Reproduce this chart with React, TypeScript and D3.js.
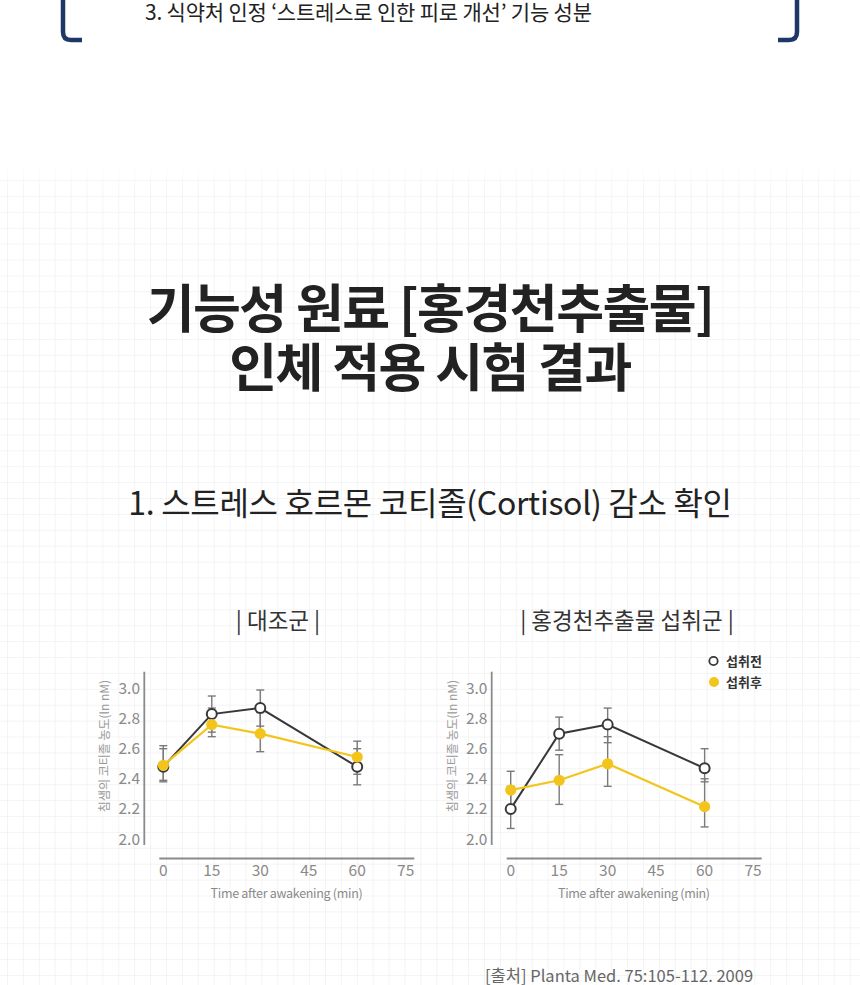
import * as d3 from "d3";

// 측정 시점 (min)
const minutes = [0, 15, 30, 60];
const xTicks = [0, 15, 30, 45, 60, 75];
const yTicks = [2.0, 2.2, 2.4, 2.6, 2.8, 3.0];

// 대조군
const controlBefore = [2.48, 2.83, 2.87, 2.48];
const controlBeforeLow = [2.38, 2.71, 2.75, 2.36];
const controlBeforeHigh = [2.62, 2.95, 2.99, 2.6];
const controlAfter = [2.49, 2.76, 2.7, 2.545];
const controlAfterLow = [2.39, 2.68, 2.58, 2.43];
const controlAfterHigh = [2.6, 2.87, 2.84, 2.65];

// 홍경천추출물 섭취군
const extractBefore = [2.2, 2.7, 2.76, 2.47];
const extractBeforeLow = [2.07, 2.59, 2.64, 2.38];
const extractBeforeHigh = [2.35, 2.81, 2.87, 2.6];
const extractAfter = [2.325, 2.39, 2.5, 2.215];
const extractAfterLow = [2.2, 2.23, 2.35, 2.08];
const extractAfterHigh = [2.45, 2.56, 2.68, 2.4];

const legendLabels = ["섭취전", "섭취후"];

const FONT = "'Noto Sans CJK KR', 'Noto Sans', sans-serif";
const BLACK = "#383838";
const YELLOW = "#f3c51c";
const AXIS = "#8a8a8a";

type Series = { values: number[]; low: number[]; high: number[] };

function Panel({
  dx,
  title,
  titleX,
  before,
  after,
}: {
  dx: number;
  title: string;
  titleX: number;
  before: Series;
  after: Series;
}) {
  const x = d3.scaleLinear([0, 75], [163.3 + dx, 405.7 + dx]);
  const y = d3.scaleLinear([2, 3], [839, 688.5]);
  const line = d3
    .line<number>()
    .x((_, i) => x(minutes[i]))
    .y((d) => y(d));

  const errBars = (s: Series, key: string) =>
    minutes.map((m, i) => (
      <g key={key + i} stroke="#7a7a7a" strokeWidth={1.4}>
        <line x1={x(m)} x2={x(m)} y1={y(s.low[i])} y2={y(s.high[i])} />
        <line x1={x(m) - 4} x2={x(m) + 4} y1={y(s.low[i])} y2={y(s.low[i])} />
        <line x1={x(m) - 4} x2={x(m) + 4} y1={y(s.high[i])} y2={y(s.high[i])} />
      </g>
    ));

  return (
    <g>
      <text x={titleX} y={629} textAnchor="middle" fontSize={22.5} fill="#333" fontFamily={FONT}>
        {title}
      </text>
      {/* y axis */}
      <line x1={144.3 + dx} x2={144.3 + dx} y1={671.7} y2={845} stroke={AXIS} strokeWidth={1.8} />
      {yTicks.map((t) => (
        <text
          key={t}
          x={140 + dx}
          y={y(t)}
          dy="0.36em"
          textAnchor="end"
          fontSize={15.5}
          fill={AXIS}
          fontFamily={FONT}
        >
          {t.toFixed(1)}
        </text>
      ))}
      <text
        transform={`translate(${105 + dx},${746}) rotate(-90)`}
        textAnchor="middle"
        dy="0.36em"
        fontSize={12}
        fill="#9a9a9a"
        fontFamily={FONT}
      >
        침샘의 코티졸 농도(ln nM)
      </text>
      {/* x axis */}
      <line x1={159.3 + dx} x2={414.3 + dx} y1={858.5} y2={858.5} stroke={AXIS} strokeWidth={1.8} />
      {xTicks.map((t) => (
        <text
          key={t}
          x={x(t)}
          y={876}
          textAnchor="middle"
          fontSize={15.5}
          fill={AXIS}
          fontFamily={FONT}
        >
          {t}
        </text>
      ))}
      <text
        x={(x(0) + x(75)) / 2 + 2}
        y={898}
        textAnchor="middle"
        fontSize={12.5}
        letterSpacing={-0.3}
        fill="#8a8a8a"
        fontFamily={FONT}
      >
        Time after awakening (min)
      </text>
      {errBars(before, "b")}
      {errBars(after, "a")}
      <path d={line(before.values) ?? ""} fill="none" stroke={BLACK} strokeWidth={2} />
      <path d={line(after.values) ?? ""} fill="none" stroke={YELLOW} strokeWidth={2.2} />
      {before.values.map((v, i) => (
        <circle key={"bc" + i} cx={x(minutes[i])} cy={y(v)} r={5} fill="#fff" stroke={BLACK} strokeWidth={2} />
      ))}
      {after.values.map((v, i) => (
        <circle key={"ac" + i} cx={x(minutes[i])} cy={y(v)} r={5.6} fill={YELLOW} />
      ))}
    </g>
  );
}

export default function App() {
  const W = 860;
  const H = 985;
  const gridStep = 15.9;
  return (
    <svg
      width={W}
      height={H}
      style={{ position: "absolute", left: 0, top: 0, background: "#fff" }}
      fontFamily={FONT}
    >
      <defs>
        <pattern id="grid" x={7} y={180} width={gridStep} height={gridStep} patternUnits="userSpaceOnUse">
          <path d={`M0,0 V${gridStep} M0,0 H${gridStep}`} stroke="#eaeaea" strokeWidth={1} fill="none" />
        </pattern>
        <linearGradient id="fade" x1="0" y1="0" x2="0" y2="1">
          <stop offset="0" stopColor="#fff" stopOpacity={1} />
          <stop offset="1" stopColor="#fff" stopOpacity={0} />
        </linearGradient>
      </defs>
      <rect x={0} y={0} width={W} height={H} fill="#fff" />
      <rect x={0} y={165} width={W} height={H - 165} fill="url(#grid)" />
      <rect x={0} y={160} width={W} height={30} fill="url(#fade)" />

      {/* top box */}
      <path d="M63,0 V32 Q63,40 71,40 H82" fill="none" stroke="#1d3767" strokeWidth={4.5} />
      <path d="M797,0 V32 Q797,40 789,40 H778" fill="none" stroke="#1d3767" strokeWidth={4.5} />
      <text x={145} y={20} fontSize={21} fill="#222" letterSpacing={-0.2}>
        3. 식약처 인정 ‘스트레스로 인한 피로 개선’ 기능 성분
      </text>

      {/* headline */}
      <text x={430} y={328} textAnchor="middle" fontSize={52} fontWeight={700} fill="#222" letterSpacing={-1.5}>
        기능성 원료 [홍경천추출물]
      </text>
      <text x={430} y={387} textAnchor="middle" fontSize={52} fontWeight={700} fill="#222" letterSpacing={-1.5}>
        인체 적용 시험 결과
      </text>
      <text x={430} y={515} textAnchor="middle" fontSize={32} fill="#222" letterSpacing={-0.3}>
        1. 스트레스 호르몬 코티졸(Cortisol) 감소 확인
      </text>

      <Panel
        dx={0}
        title="| 대조군 |"
        titleX={278}
        before={{ values: controlBefore, low: controlBeforeLow, high: controlBeforeHigh }}
        after={{ values: controlAfter, low: controlAfterLow, high: controlAfterHigh }}
      />
      <Panel
        dx={347.4}
        title="| 홍경천추출물 섭취군 |"
        titleX={627}
        before={{ values: extractBefore, low: extractBeforeLow, high: extractBeforeHigh }}
        after={{ values: extractAfter, low: extractAfterLow, high: extractAfterHigh }}
      />

      {/* legend */}
      <circle cx={713.5} cy={661} r={4.2} fill="#fff" stroke={BLACK} strokeWidth={1.8} />
      <text x={726} y={661} dy="0.36em" fontSize={13} fontWeight={700} fill="#333">
        {legendLabels[0]}
      </text>
      <circle cx={714} cy={682} r={5} fill={YELLOW} />
      <text x={726} y={682} dy="0.36em" fontSize={13} fontWeight={700} fill="#333">
        {legendLabels[1]}
      </text>

      <text x={485} y={982} fontSize={16.5} fill="#666">
        [출처] Planta Med. 75:105-112. 2009
      </text>
    </svg>
  );
}
